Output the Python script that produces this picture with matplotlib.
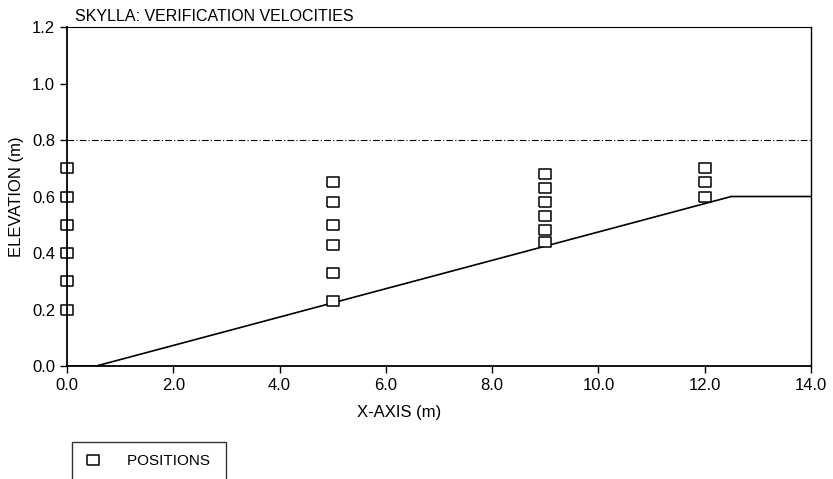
import matplotlib
matplotlib.use("Agg")
import matplotlib.pyplot as plt

plt.rcParams['font.family'] = ['Liberation Sans', 'DejaVu Sans']

# bottom profile (m)
bed_x = [0.0, 0.55, 12.5, 14.0]
bed_y = [0.0, 0.0, 0.6, 0.6]

water_level = 0.8

# measurement positions
pos_x = [0, 0, 0, 0, 0, 0,
         5, 5, 5, 5, 5, 5,
         9, 9, 9, 9, 9, 9,
         12, 12, 12]
pos_y = [0.70, 0.60, 0.50, 0.40, 0.30, 0.20,
         0.65, 0.58, 0.50, 0.43, 0.33, 0.23,
         0.68, 0.63, 0.58, 0.53, 0.48, 0.44,
         0.70, 0.65, 0.60]

xticks = [0, 2, 4, 6, 8, 10, 12, 14]
yticks = [0.0, 0.2, 0.4, 0.6, 0.8, 1.0, 1.2]

# slightly wide rectangle like the original plotter symbol
rect = [(-1.25, -1), (1.25, -1), (1.25, 1), (-1.25, 1), (-1.25, -1)]

fig = plt.figure(figsize=(8.33, 4.79), dpi=100)
ax = fig.add_axes([0.0804, 0.2359, 0.8932, 0.7077])

ax.plot(bed_x, bed_y, color="black", lw=1.2)
ax.axhline(water_level, color="black", lw=0.8, ls=(0, (6, 2, 1, 2)))
pts, = ax.plot(pos_x, pos_y, ls="none", marker=rect, markersize=9,
               markerfacecolor="white", markeredgecolor="black",
               markeredgewidth=1.1, label="POSITIONS", clip_on=False)

ax.set_xlim(0, 14)
ax.set_ylim(0, 1.2)
ax.set_xticks(xticks)
ax.set_xticklabels([f"{t:.1f}" for t in xticks])
ax.set_yticks(yticks)
ax.set_yticklabels([f"{t:.1f}" for t in yticks])
ax.tick_params(direction="out", length=5, labelsize=12, width=1)
ax.spines["left"].set_linewidth(1.3)
ax.spines["bottom"].set_linewidth(1.3)
ax.spines["top"].set_linewidth(0.8)
ax.spines["right"].set_linewidth(1.0)

ax.set_xlabel("X-AXIS (m)", fontsize=12)
ax.xaxis.set_label_coords(0.446, -0.115)
ax.set_ylabel("ELEVATION (m)", fontsize=12, labelpad=6)
fig.text(0.09, 0.965, "SKYLLA: VERIFICATION VELOCITIES", fontsize=11.5,
         ha="left", va="center")

leg = fig.legend(handles=[pts], loc="upper left",
                 bbox_to_anchor=(0.0864, 0.077), fancybox=False,
                 edgecolor="black", fontsize=11, handlelength=1.2,
                 borderpad=0.8, handletextpad=1.6, borderaxespad=0)
leg.get_frame().set_linewidth(1.0)
leg.get_texts()[0].set_text("POSITIONS ")

fig.savefig("out.png", dpi=100)
